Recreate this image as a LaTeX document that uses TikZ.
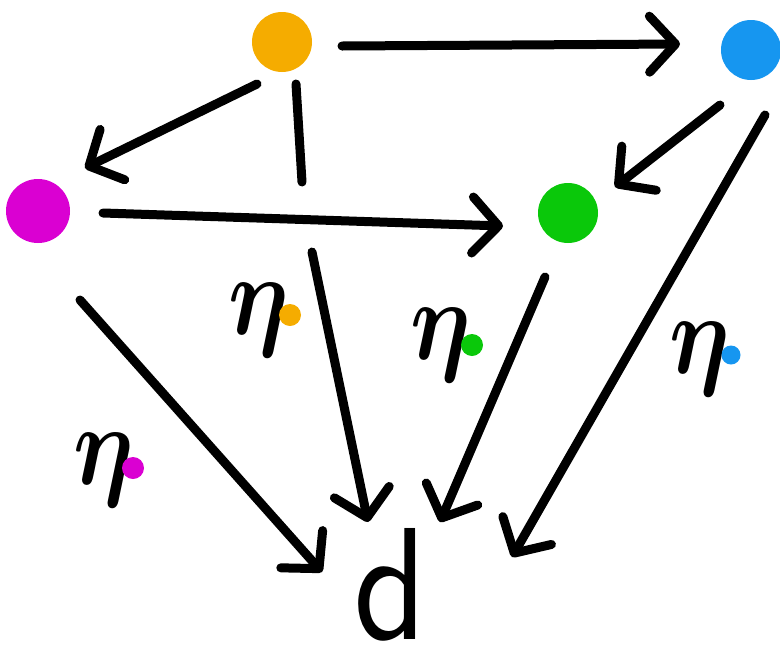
\documentclass[tikz,border=0pt]{standalone}
\usepackage{bm}
\usetikzlibrary{arrows.meta,calc}
\definecolor{dotorange}{RGB}{245,172,0}
\definecolor{dotblue}{RGB}{22,150,240}
\definecolor{dotmagenta}{RGB}{218,0,210}
\definecolor{dotgreen}{RGB}{10,200,10}
\newcommand{\etasym}{\ensuremath{\bm{\eta}}}
\begin{document}
\begin{tikzpicture}[x=1pt,y=-1pt,
  dot/.style={circle,inner sep=0pt,minimum size=#1},
  stroke/.style={line width=9pt,line cap=round,line join=round},
  arr/.style={stroke,-{Straight Barb[length=26pt,width=56pt,round]}},
  etalabel/.style={xscale=9.5,yscale=11.5,inner sep=0pt},
  smalldot/.style={circle,inner sep=0pt,minimum size=22pt}]
\useasboundingbox (0,0) rectangle (780,649);

% vertices
\node[dot=60pt,fill=dotorange]  (o) at (282,42) {};
\node[dot=60pt,fill=dotblue]    (b) at (751,50) {};
\node[dot=64pt,fill=dotmagenta] (m) at (38,211) {};
\node[dot=60pt,fill=dotgreen]   (g) at (568,213) {};
\node[xscale=14.3,yscale=16,inner sep=0pt,anchor=base] (d) at (390,639) {\sffamily d};

% top face
\draw[arr] ($(o)+(60,4)$) -- ($(b)+(-71,-6)$);
\draw[arr] ($(o)+(-25,42)$) -- ($(m)+(47,-43)$);
\draw[arr] ($(m)+(65,2)$) -- ($(g)+(-65,13)$);
\draw[arr] ($(b)+(-31,55)$) -- ($(g)+(47,-26)$);

% orange to d, broken where it passes behind the magenta-green edge
\draw[stroke] ($(o)+(14,42)$) -- ($(o)+(20,140)$);
\draw[arr] ($(o)+(30,210)$) -- ($(d.base)+(-22,-117)$);

% remaining edges into d
\draw[arr] ($(m)+(42,89)$) -- ($(d.base)+(-68,-67)$);
\draw[arr] ($(g)+(-23,64)$) -- ($(d.base)+(50,-117)$);
\draw[arr] ($(b)+(14,65)$) -- ($(d.base)+(122,-82)$);

% eta labels with coloured markers
\node[etalabel] (eo) at (259,320) {\etasym};
\node[smalldot,fill=dotorange] (eod) at (290,315) {};
\node[etalabel] (eg) at (441,345) {\etasym};
\node[smalldot,fill=dotgreen] (egd) at (472,345) {};
\node[etalabel] (eb) at (700,359) {\etasym};
\node[smalldot,fill=dotblue,minimum size=19pt] (ebd) at (731,355) {};
\node[etalabel] (em) at (104,470) {\etasym};
\node[smalldot,fill=dotmagenta] (emd) at (133,468) {};
\end{tikzpicture}
\end{document}
